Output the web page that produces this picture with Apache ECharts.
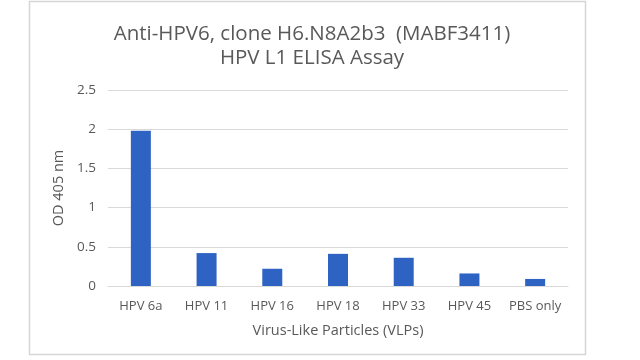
<!DOCTYPE html>
<html><head><meta charset="utf-8">
<script src="https://cdn.jsdelivr.net/npm/echarts@6/dist/echarts.min.js"></script>
<style>html,body{margin:0;padding:0;background:#fff}#c{width:640px;height:360px}</style>
</head><body><div id="c"></div>
<script>
const categories = ['HPV 6a','HPV 11','HPV 16','HPV 18','HPV 33','HPV 45','PBS only'];
const odValues = [1.98, 0.42, 0.22, 0.41, 0.36, 0.16, 0.09];
const titleLines = ['Anti-HPV6, clone H6.N8A2b3  (MABF3411)', 'HPV L1 ELISA Assay'];
const yAxisName = 'OD 405 nm';
const xAxisName = 'Virus-Like Particles (VLPs)';

const chart = echarts.init(document.getElementById('c'), null, {renderer:'canvas'});
const font = 'Open Sans';
const textColor = '#595959';
chart.setOption({
  animation:false,
  backgroundColor:'#fff',
  graphic:[{type:'rect',shape:{x:29.5,y:1.5,width:556,height:353},style:{fill:'none',stroke:'#d6d6d6',lineWidth:1.5},silent:true}],
  title:{text:titleLines.join('\n'),left:307,textAlign:'center',top:17,
    textStyle:{fontFamily:font,fontSize:20.5,fontWeight:'normal',color:textColor,lineHeight:24}},
  grid:{left:108,right:72,top:90,bottom:74,containLabel:false},
  xAxis:{type:'category',data:categories,
    name:xAxisName,nameLocation:'middle',nameGap:37,
    nameTextStyle:{fontFamily:font,fontSize:14.5,color:textColor},
    axisLine:{show:true,lineStyle:{color:'#d9d9d9'}},axisTick:{show:false},
    axisLabel:{fontFamily:font,fontSize:13,color:textColor,margin:14,interval:0}},
  yAxis:{type:'value',min:0,max:2.5,interval:0.5,
    name:yAxisName,nameLocation:'middle',nameGap:36,
    nameTextStyle:{fontFamily:font,fontSize:14.5,color:textColor},
    axisLine:{show:false},axisTick:{show:false},
    axisLabel:{fontFamily:font,fontSize:13.5,color:textColor,margin:12},
    splitLine:{lineStyle:{color:'#d9d9d9'}}},
  series:[{type:'bar',data:odValues,barWidth:20,itemStyle:{color:'#2e63c4'}}]
});
</script></body></html>
